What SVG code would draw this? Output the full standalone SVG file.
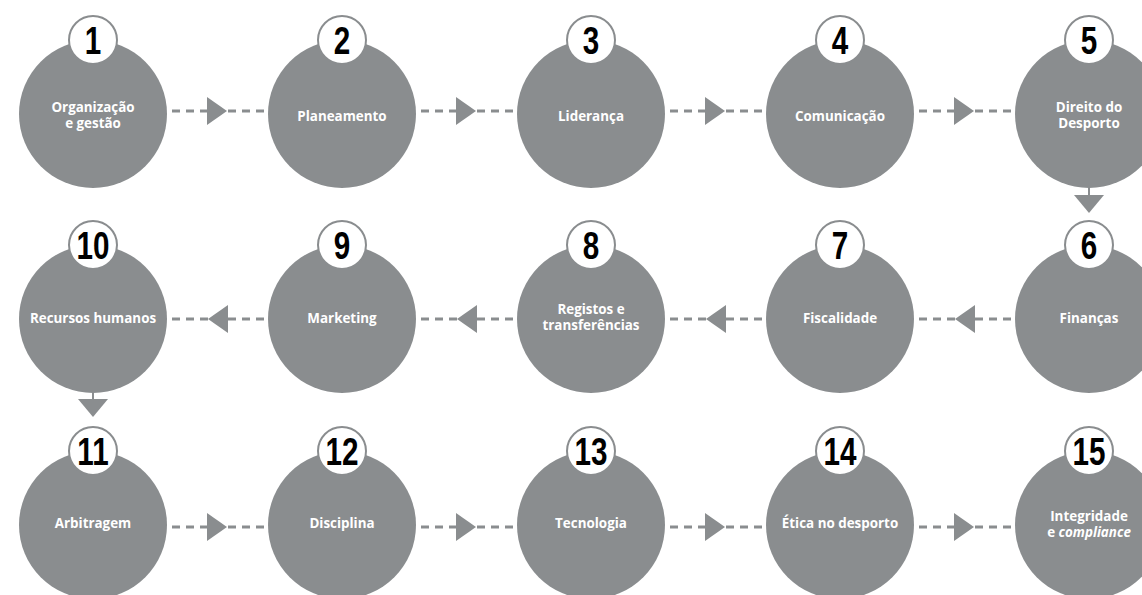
<svg xmlns="http://www.w3.org/2000/svg" width="1142" height="595" viewBox="0 0 1142 595">
<defs>
<style>
.c{fill:#8a8d8f}
.b{fill:#fff;stroke:#8a8d8f;stroke-width:2}
.n{font-family:"Liberation Sans",Arial,sans-serif;font-weight:700;font-size:38px;fill:#000;text-anchor:middle}
.t{font-family:"Open Sans","Liberation Sans",sans-serif;font-weight:700;font-size:13.4px;fill:#fff;text-anchor:middle}
.d{stroke:#8a8d8f;stroke-width:3;stroke-dasharray:8 6;fill:none}
.a{fill:#8a8d8f}
</style>
</defs>
<g id="connectors">
<path class="d" d="M172 111H265M421 111H514M670 111H763M919 111H1012"/>
<polygon class="a" points="207,97 227,111 207,125"/>
<polygon class="a" points="456,97 476,111 456,125"/>
<polygon class="a" points="705,97 725,111 705,125"/>
<polygon class="a" points="954,97 974,111 954,125"/>
<path class="d" d="M172 319H265M421 319H514M670 319H763M919 319H1012"/>
<polygon class="a" points="228,305 208,319 228,333"/>
<polygon class="a" points="477,305 457,319 477,333"/>
<polygon class="a" points="726,305 706,319 726,333"/>
<polygon class="a" points="975,305 955,319 975,333"/>
<path class="d" d="M172 527H265M421 527H514M670 527H763M919 527H1012"/>
<polygon class="a" points="207,513 227,527 207,541"/>
<polygon class="a" points="456,513 476,527 456,541"/>
<polygon class="a" points="705,513 725,527 705,541"/>
<polygon class="a" points="954,513 974,527 954,541"/>
<path d="M1089 187V197M93 392V400" stroke="#8a8d8f" stroke-width="2"/>
<polygon class="a" points="1074,195 1104,195 1089,213"/>
<polygon class="a" points="78,399 108,399 93,417"/>
</g>
<g id="node1"><circle class="c" cx="93" cy="114" r="74"/><circle class="b" cx="93" cy="40" r="24"/><text class="n" transform="translate(93,54) scale(0.78,1)">1</text><text class="t" x="93" y="112">Organização</text><text class="t" x="93" y="128">e gestão</text></g>
<g id="node2"><circle class="c" cx="342" cy="114" r="74"/><circle class="b" cx="342" cy="40" r="24"/><text class="n" transform="translate(342,54) scale(0.78,1)">2</text><text class="t" x="342" y="121">Planeamento</text></g>
<g id="node3"><circle class="c" cx="591" cy="114" r="74"/><circle class="b" cx="591" cy="40" r="24"/><text class="n" transform="translate(591,54) scale(0.78,1)">3</text><text class="t" x="591" y="121">Liderança</text></g>
<g id="node4"><circle class="c" cx="840" cy="114" r="74"/><circle class="b" cx="840" cy="40" r="24"/><text class="n" transform="translate(840,54) scale(0.78,1)">4</text><text class="t" x="840" y="121">Comunicação</text></g>
<g id="node5"><circle class="c" cx="1089" cy="114" r="74"/><circle class="b" cx="1089" cy="40" r="24"/><text class="n" transform="translate(1089,54) scale(0.78,1)">5</text><text class="t" x="1089" y="112">Direito do</text><text class="t" x="1089" y="128">Desporto</text></g>
<g id="node6"><circle class="c" cx="1089" cy="319" r="74"/><circle class="b" cx="1089" cy="245" r="24"/><text class="n" transform="translate(1089,259) scale(0.78,1)">6</text><text class="t" x="1089" y="323">Finanças</text></g>
<g id="node7"><circle class="c" cx="840" cy="319" r="74"/><circle class="b" cx="840" cy="245" r="24"/><text class="n" transform="translate(840,259) scale(0.78,1)">7</text><text class="t" x="840" y="323">Fiscalidade</text></g>
<g id="node8"><circle class="c" cx="591" cy="319" r="74"/><circle class="b" cx="591" cy="245" r="24"/><text class="n" transform="translate(591,259) scale(0.78,1)">8</text><text class="t" x="591" y="314">Registos e</text><text class="t" x="591" y="330">transferências</text></g>
<g id="node9"><circle class="c" cx="342" cy="319" r="74"/><circle class="b" cx="342" cy="245" r="24"/><text class="n" transform="translate(342,259) scale(0.78,1)">9</text><text class="t" x="342" y="323">Marketing</text></g>
<g id="node10"><circle class="c" cx="93" cy="319" r="74"/><circle class="b" cx="93" cy="245" r="24"/><text class="n" transform="translate(93,259) scale(0.78,1)">10</text><text class="t" x="93" y="323">Recursos humanos</text></g>
<g id="node11"><circle class="c" cx="93" cy="525" r="74"/><circle class="b" cx="93" cy="451" r="24"/><text class="n" transform="translate(93,465) scale(0.78,1)">11</text><text class="t" x="93" y="528">Arbitragem</text></g>
<g id="node12"><circle class="c" cx="342" cy="525" r="74"/><circle class="b" cx="342" cy="451" r="24"/><text class="n" transform="translate(342,465) scale(0.78,1)">12</text><text class="t" x="342" y="528">Disciplina</text></g>
<g id="node13"><circle class="c" cx="591" cy="525" r="74"/><circle class="b" cx="591" cy="451" r="24"/><text class="n" transform="translate(591,465) scale(0.78,1)">13</text><text class="t" x="591" y="528">Tecnologia</text></g>
<g id="node14"><circle class="c" cx="840" cy="525" r="74"/><circle class="b" cx="840" cy="451" r="24"/><text class="n" transform="translate(840,465) scale(0.78,1)">14</text><text class="t" x="840" y="528">Ética no desporto</text></g>
<g id="node15"><circle class="c" cx="1089" cy="525" r="74"/><circle class="b" cx="1089" cy="451" r="24"/><text class="n" transform="translate(1089,465) scale(0.78,1)">15</text><text class="t" x="1089" y="521">Integridade</text><text class="t" x="1089" y="537">e <tspan font-style="italic">compliance</tspan></text></g>
</svg>
